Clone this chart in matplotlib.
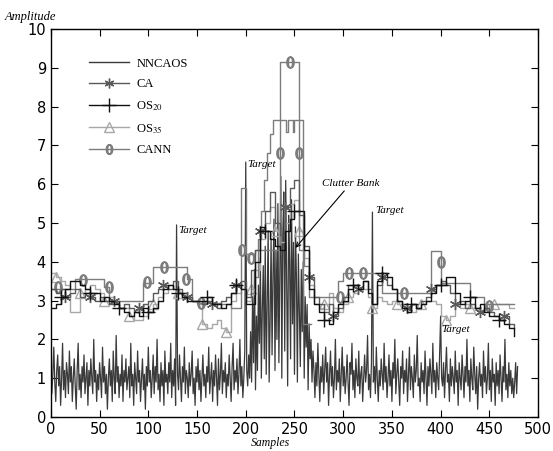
import numpy as np
import matplotlib
matplotlib.use('Agg')
import matplotlib.pyplot as plt
from matplotlib.lines import Line2D

plt.rcParams['mathtext.fontset'] = 'stix'

# received signal (NNCAOS), one value per sample
nncaos = [
    1.4, 0.6, 1.1, 1.8, 0.9, 0.4, 1.2, 1.6, 0.8, 1.3, 0.3, 1.0, 1.9, 0.7, 1.2, 0.5, 1.4, 1.1, 0.6, 1.7,
    0.9, 1.3, 0.4, 1.0, 1.5, 0.8, 0.2, 1.2, 1.9, 0.7, 1.1, 0.5, 1.3, 0.9, 1.6, 0.6, 1.0, 1.4, 0.3, 1.2,
    0.8, 1.5, 1.0, 0.6, 2.0, 0.9, 1.2, 0.4, 1.1, 0.7, 1.4, 1.0, 0.5, 1.8, 0.9, 1.3, 0.6, 1.1, 0.2, 1.0,
    1.5, 0.8, 1.2, 0.4, 1.7, 1.0, 0.6, 2.1, 0.9, 1.3, 0.5, 1.1, 0.8, 1.6, 0.4, 1.2, 0.9, 1.5, 0.7, 1.0,
    1.3, 0.5, 1.9, 0.8, 1.1, 0.3, 1.4, 1.0, 0.6, 1.7, 0.9, 1.2, 0.4, 1.0, 1.5, 0.7, 1.1, 0.2, 1.3, 0.8,
    1.8, 0.9, 1.2, 0.5, 1.0, 1.6, 0.6, 1.3, 0.9, 2.0, 0.7, 1.1, 0.4, 1.4, 0.8, 1.2, 0.3, 1.7, 0.9, 1.1,
    0.6, 1.4, 0.9, 1.9, 0.5, 1.2, 0.8, 1.5, 0.3, 4.95, 1.1, 0.7, 1.6, 1.0, 0.4, 1.3, 0.9, 1.8, 0.6, 1.2,
    1.0, 0.5, 1.4, 0.8, 1.1, 1.7, 0.6, 1.0, 0.3, 1.3, 0.9, 1.5, 0.7, 1.2, 0.4, 1.0, 1.6, 0.8, 1.1, 0.5,
    1.3, 0.9, 1.8, 0.6, 1.0, 1.4, 0.4, 1.2, 0.8, 1.6, 1.0, 0.3, 1.5, 0.7, 1.1, 1.9, 0.6, 1.2, 0.9, 1.4,
    0.5, 1.1, 0.8, 1.6, 1.0, 0.4, 1.3, 1.9, 0.7, 1.2, 0.9, 1.5, 0.6, 1.1, 2.0, 0.8, 1.3, 0.5, 1.0, 1.7,
    6.57, 1.2, 0.8, 1.6, 1.0, 2.2, 0.9, 3.1, 1.4, 3.8, 0.7, 2.6, 1.2, 3.4, 1.9, 4.1, 1.0, 2.8, 3.9, 1.5,
    4.4, 1.1, 3.0, 4.8, 0.9, 2.5, 4.6, 1.6, 3.7, 5.1, 1.2, 4.3, 2.0, 5.5, 1.4, 3.9, 6.2, 1.0, 4.7, 5.8,
    1.7, 6.1, 3.3, 0.8, 5.2, 4.0, 1.5, 5.6, 2.4, 4.5, 1.1, 4.9, 3.6, 0.9, 4.2, 2.7, 1.3, 3.8, 2.2, 4.0,
    1.0, 3.1, 1.8, 2.9, 0.7, 2.4, 1.5, 2.0, 0.9, 1.7, 1.2, 0.5, 1.4, 0.8, 1.9, 1.1, 0.4, 1.3, 0.9, 1.6,
    0.6, 1.2, 1.8, 0.9, 1.4, 0.3, 1.1, 1.7, 0.8, 1.3, 0.5, 1.0, 2.0, 0.7, 1.2, 0.9, 1.5, 0.4, 1.1, 1.8,
    0.8, 1.3, 0.6, 1.0, 1.6, 0.9, 0.3, 1.4, 1.1, 1.9, 0.7, 1.2, 0.5, 1.5, 1.0, 0.8, 1.7, 0.6, 1.1, 1.3,
    0.4, 1.0, 1.6, 0.9, 1.2, 2.1, 0.7, 1.1, 0.5, 1.4, 5.28, 0.9, 1.3, 0.6, 1.8, 1.0, 0.4, 1.2, 0.8, 1.5,
    1.1, 0.7, 1.9, 0.9, 1.3, 0.5, 1.0, 1.6, 0.8, 1.2, 0.4, 1.4, 1.0, 2.0, 0.6, 1.1, 1.5, 0.9, 0.3, 1.3,
    1.0, 1.7, 0.6, 1.2, 0.9, 1.5, 0.4, 1.1, 1.8, 0.7, 1.3, 1.0, 0.5, 1.6, 0.9, 1.2, 2.1, 0.8, 1.0, 0.4,
    1.4, 0.9, 1.2, 0.6, 1.7, 1.0, 0.3, 1.3, 0.8, 1.5, 1.1, 0.6, 1.9, 0.9, 1.2, 0.5, 1.4, 1.0, 0.7, 1.6,
    2.6, 1.0, 0.8, 1.4, 0.5, 1.2, 1.8, 0.9, 1.1, 0.4, 1.5, 0.8, 1.3, 1.0, 0.6, 1.7, 0.9, 1.2, 0.3, 1.4,
    1.0, 0.7, 1.6, 1.1, 0.5, 1.3, 0.9, 2.0, 0.8, 1.2, 0.4, 1.5, 1.0, 0.7, 1.8, 1.1, 0.6, 1.3, 0.2, 1.0,
    1.4, 0.8, 1.1, 0.5, 1.7, 0.9, 1.3, 0.6, 1.0, 1.9, 0.7, 1.2, 0.4, 1.5, 0.9, 1.1, 0.3, 1.4, 0.8, 1.2,
    0.6, 1.6, 1.0, 0.4, 1.3, 0.9, 2.0, 0.7, 1.1, 0.5, 1.4, 0.8, 1.2, 0.6, 1.0, 0.5, 0.9, 1.4, 0.6, 1.3,
]

# thresholds, one value every 5 samples (0, 5, ..., 475)
ca = [
    3.3, 3.2, 3.3, 3.1, 3.2, 3.3, 3.1, 3.2, 3.1, 3.0,
    3.1, 3.0, 2.9, 3.0, 2.8, 2.9, 2.8, 2.7, 2.8, 2.9,
    3.0, 3.2, 3.3, 3.4, 3.3, 3.5, 3.3, 3.2, 3.1, 3.0,
    3.0, 2.9, 3.0, 2.9, 2.8, 3.0, 3.1, 3.2, 3.4, 3.5,
    3.1, 3.8, 4.3, 4.8, 5.3, 5.8, 5.0, 4.7, 5.4, 5.9,
    6.1, 5.2, 4.4, 3.6, 3.1, 2.9, 2.7, 2.9, 2.6, 2.8,
    3.1, 3.4, 3.4, 3.3, 3.5, 3.3, 2.9, 3.4, 3.6, 3.4,
    3.3, 3.0, 2.9, 2.8, 2.9, 2.8, 3.0, 3.1, 3.3, 3.4,
    3.5, 3.4, 3.2, 2.9, 3.0, 2.8, 2.9, 2.8, 2.7, 2.8,
    2.7, 2.6, 2.5, 2.6, 2.4, 2.3,
]
os20 = [
    2.8, 2.9, 3.1, 3.3, 3.5, 3.5, 3.4, 3.3, 3.2, 3.2,
    3.0, 3.1, 3.0, 2.9, 2.8, 2.7, 2.6, 2.7, 2.6, 2.8,
    2.7, 2.8, 3.0, 3.3, 3.4, 3.3, 3.2, 3.1, 3.0, 3.0,
    3.0, 3.0, 3.1, 2.9, 2.9, 2.8, 2.9, 3.2, 3.4, 3.3,
    2.9, 2.9, 4.0, 4.9, 4.8, 4.6, 4.4, 4.3, 4.8, 5.1,
    5.3, 5.3, 4.3, 3.3, 2.9, 2.7, 2.5, 2.4, 2.7, 2.9,
    3.0, 3.3, 3.4, 3.3, 3.5, 3.2, 2.9, 3.5, 3.7, 3.6,
    3.3, 3.0, 2.8, 2.7, 2.9, 2.8, 2.9, 3.0, 3.2, 3.4,
    3.4, 3.6, 3.6, 3.2, 2.9, 3.0, 3.1, 2.8, 2.9, 2.7,
    2.6, 2.6, 2.5, 2.4, 2.3, 2.1,
]
os35 = [
    3.7, 3.6, 3.5, 3.4, 2.7, 2.7, 3.2, 3.3, 3.4, 3.3,
    3.2, 3.0, 3.1, 2.9, 2.8, 2.8, 2.6, 2.5, 2.5, 2.6,
    2.7, 2.9, 3.1, 3.2, 3.4, 3.3, 3.2, 3.1, 3.1, 3.0,
    2.9, 2.4, 2.3, 2.4, 2.5, 2.3, 2.2, 3.0, 3.2, 3.3,
    3.0, 3.3, 3.8, 4.6, 5.0, 5.4, 4.8, 4.5, 5.0, 5.5,
    5.6, 4.8, 4.1, 3.4, 2.9, 2.8, 2.9, 3.2, 2.8, 2.7,
    2.9, 3.1, 3.2, 3.3, 3.3, 3.1, 2.8, 3.1, 3.0, 2.9,
    3.0, 2.9, 2.8, 2.7, 2.7, 2.8, 2.9, 3.0, 3.0, 2.9,
    2.6, 2.5, 2.6, 2.9, 2.8, 2.9, 2.8, 2.8, 2.7, 2.8,
    2.9, 2.9, 2.9, 2.9, 2.8, 2.8,
]
cann = [
    3.3, 3.3, 3.3, 3.3, 3.3, 3.55, 3.55, 3.55, 3.55, 3.55,
    3.55, 3.35, 3.0, 3.0, 3.0, 3.0, 3.0, 3.0, 3.0, 3.45,
    3.45, 3.87, 3.87, 3.87, 3.87, 3.87, 3.87, 3.87, 3.55, 3.0,
    2.95, 2.95, 2.95, 2.95, 2.95, 2.9, 2.9, 2.8, 2.8, 5.9,
    4.2, 4.2, 4.3, 4.3, 4.3, 4.3, 4.3, 9.15, 9.15, 9.15,
    9.15, 4.3, 3.9, 3.1, 3.1, 3.1, 3.1, 3.1, 3.1, 3.5,
    3.7, 3.7, 3.7, 3.7, 3.7, 3.7, 3.7, 3.7, 3.2, 3.2,
    3.2, 3.2, 3.2, 3.2, 3.2, 3.2, 3.2, 3.2, 4.28, 4.28,
    3.45, 3.45, 3.45, 3.45, 3.45, 3.45, 3.1, 3.1, 3.1, 2.9,
    2.9, 2.9, 2.9, 2.9, 2.9, 2.9,
]
# CANN staircase inside the clutter bank
stair_x = [205, 210, 213, 216, 219, 222, 225, 228, 241, 243, 248, 250, 259, 267]
stair_y = [3.2, 3.6, 4.6, 5.3, 6.1, 6.8, 7.3, 7.65, 7.35, 7.65, 7.35, 7.65, 2.4, 2.4]
# CANN marker positions
cann_mx = [7, 33, 60, 99, 116, 139, 154, 196, 205, 235, 245, 255, 297, 306, 320, 362, 400, 450]
cann_my = [3.35, 3.53, 3.35, 3.48, 3.87, 3.55, 2.94, 4.3, 4.1, 6.8, 9.15, 6.8, 3.1, 3.7, 3.7, 3.2, 4.0, 2.86]

n = np.arange(len(nncaos))
xs = np.arange(0, 480, 5)

fig = plt.figure(figsize=(5.53, 4.51), dpi=100)
ax = fig.add_axes([0.092, 0.0754, 0.881, 0.8603])

c_sig, c_ca, c_os20, c_os35, c_cann = '#3a3a3a', '#5a5a5a', '#111111', '#a8a8a8', '#7c7c7c'
ast = (6, 2, 0)

ax.plot(n, nncaos, color=c_sig, lw=0.9)
ax.plot(xs, os35, color=c_os35, lw=1.0, drawstyle='steps-post',
        marker='^', ms=7, mfc='none', mec=c_os35, markevery=(1, 5))
ax.plot(xs, cann, color=c_cann, lw=1.0, drawstyle='steps-post')
ax.plot(stair_x, stair_y, color=c_cann, lw=1.0, drawstyle='steps-post')
ax.plot(cann_mx, cann_my, ls='none', marker='$0$', ms=8, color=c_cann)
ax.plot(xs, ca, color=c_ca, lw=1.0, drawstyle='steps-post',
        marker=ast, ms=8, mew=1.0, mec=c_ca, markevery=(3, 5))
ax.plot(xs, os20, color=c_os20, lw=1.0, drawstyle='steps-post',
        marker='+', ms=10, mew=1.0, markevery=(2, 6))

handles = [
    Line2D([], [], color=c_sig, lw=1.0),
    Line2D([], [], color=c_ca, lw=1.0, marker=ast, ms=7, mec=c_ca),
    Line2D([], [], color=c_os20, lw=1.0, marker='+', ms=10),
    Line2D([], [], color=c_os35, lw=1.0, marker='^', ms=7, mfc='none', mec=c_os35),
    Line2D([], [], color=c_cann, lw=1.0, marker='$0$', ms=7),
]
labels = ['NNCAOS', 'CA', 'OS$_{20}$', 'OS$_{35}$', 'CANN']
ax.legend(handles, labels, loc='upper left', bbox_to_anchor=(0.055, 0.955), frameon=False,
          prop={'family': 'Liberation Serif', 'size': 9}, handlelength=3.2,
          labelspacing=0.7, handletextpad=0.6)

tfont = {'family': 'Liberation Serif', 'style': 'italic', 'size': 8}
ax.text(131, 4.75, 'Target', **tfont)
ax.text(202, 6.45, 'Target', **tfont)
ax.text(333, 5.25, 'Target', **tfont)
ax.text(401, 2.2, 'Target', **tfont)
ax.annotate('Clutter Bank', xy=(251, 4.36), xytext=(278, 5.95), fontsize=8,
            family='Liberation Serif', style='italic',
            arrowprops=dict(arrowstyle='->', color='black', lw=0.8, shrinkA=0, shrinkB=0))

ax.set_xlim(0, 500)
ax.set_ylim(0, 10)
ax.set_xticks(np.arange(0, 501, 50))
ax.set_yticks(np.arange(0, 11, 1))
ax.tick_params(direction='in', top=True, right=True, length=5, labelsize=10.5)
for s in ax.spines.values():
    s.set_linewidth(1.0)

fig.text(0.009, 0.962, 'Amplitude', ha='left', va='center', family='Liberation Serif',
         style='italic', size=9)
fig.text(0.49, 0.018, 'Samples', ha='center', va='center', family='Liberation Serif',
         style='italic', size=8.5)

fig.savefig('out.png', dpi=100)
